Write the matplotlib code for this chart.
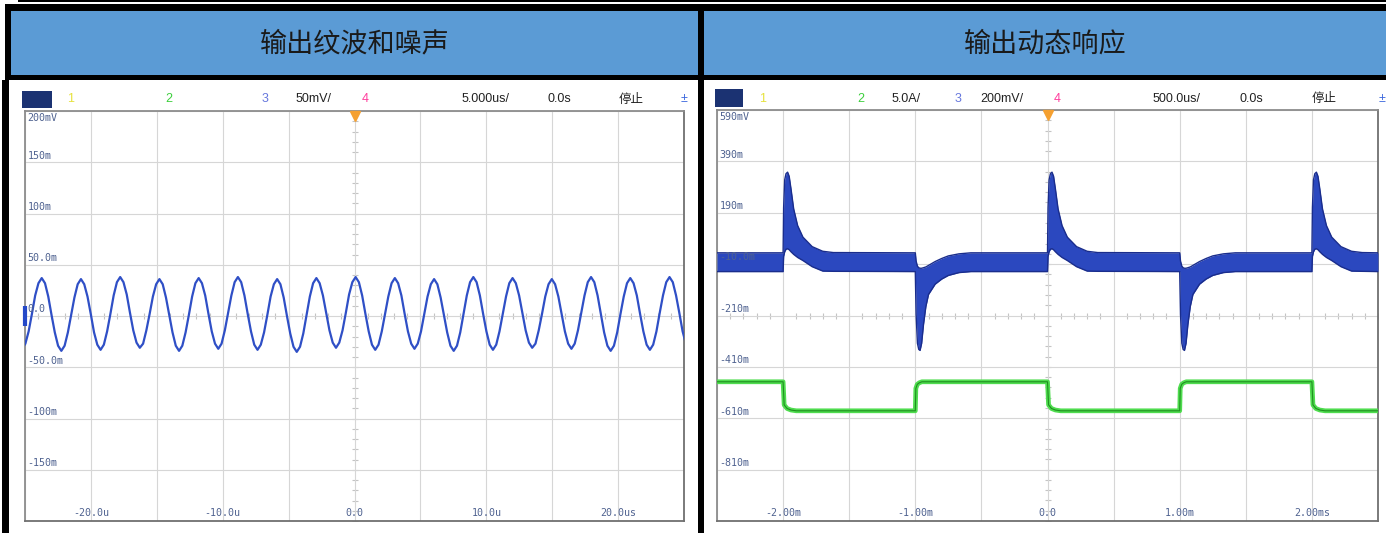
import numpy as np
import matplotlib
matplotlib.use('Agg')
import matplotlib.pyplot as plt
from matplotlib.patches import Rectangle

# ---------------- data ----------------
# left scope: output ripple, 50mV/div, 5us/div, one row = one period
ripple_mv = [
    -32, -27, -15, 2, 20, 32, 37, 32, 19, 1, -16, -29,
    -34, -29, -16, 1, 18, 31, 36, 31, 19, 2, -16, -28,
    -33, -28, -15, 2, 20, 33, 38, 33, 21, 3, -14, -26,
    -31, -27, -14, 2, 19, 31, 36, 31, 18, 1, -16, -29,
    -34, -29, -16, 1, 19, 32, 37, 32, 20, 2, -15, -27,
    -32, -27, -14, 3, 20, 33, 38, 33, 20, 2, -15, -28,
    -33, -28, -16, 1, 19, 31, 36, 31, 18, 0, -17, -30,
    -35, -30, -17, 1, 19, 32, 37, 32, 20, 3, -14, -26,
    -31, -26, -14, 3, 21, 33, 38, 33, 20, 2, -15, -28,
    -33, -28, -15, 2, 19, 32, 37, 32, 20, 2, -15, -27,
    -32, -27, -15, 2, 19, 31, 36, 31, 18, 1, -16, -29,
    -34, -29, -16, 2, 20, 33, 38, 33, 20, 2, -15, -28,
    -33, -28, -15, 2, 19, 32, 37, 32, 20, 3, -14, -26,
    -31, -27, -14, 2, 19, 31, 36, 31, 19, 2, -15, -27,
    -32, -27, -14, 3, 20, 33, 38, 33, 20, 2, -16, -29,
    -34, -29, -16, 2, 19, 32, 37, 32, 20, 2, -15, -28,
    -33, -28, -15, 3, 20, 33, 38, 33, 20, 3, -15, -27,
    -32,
]
ripple_t_first, ripple_t_last = -25.22, 25.39   # us, first/last sample

# right scope: load step response, ch3 200mV/div, 500us/div (screen in ch3 mV)
load_edges_ms = [-2.0, -1.0, 0.0, 1.0, 2.0]     # load drop, rise, drop, rise, drop
base_top, base_bot = 34, -39                     # ripple band around -10mV

over_dt = [0.0, 0.004, 0.012, 0.022, 0.034, 0.046, 0.06, 0.08, 0.11, 0.15, 0.22, 0.30, 0.38]
over_top = [34, 210, 318, 342, 348, 332, 282, 205, 140, 95, 58, 40, 35]
over_bot = [-39, 20, 38, 48, 50, 46, 38, 28, 16, 4, -20, -37, -38]

under_dt = [0.0, 0.006, 0.016, 0.026, 0.036, 0.048, 0.062, 0.08, 0.10, 0.15, 0.20, 0.25, 0.33, 0.42]
under_top = [34, 2, -18, -24, -26, -26, -24, -21, -15, 0, 12, 22, 30, 34]
under_bot = [-39, -205, -318, -342, -346, -318, -245, -175, -128, -88, -68, -54, -43, -39]

load_hi, load_lo = -468, -581
drop_dt = [0.0, 0.008, 0.03, 0.06, 0.10]
drop_lvl = [load_hi, -558, -572, -578, load_lo]
rise_dt = [0.0, 0.004, 0.015, 0.03, 0.05]
rise_lvl = [load_lo, -494, -478, -472, load_hi]

left_ylabels = ['200mV', '150m', '100m', '50.0m', '0.0', '-50.0m', '-100m', '-150m']
left_xlabels = ['-20.0u', '-10.0u', '0.0', '10.0u', '20.0us']
right_ylabels = ['590mV', '390m', '190m', '-10.0m', '-210m', '-410m', '-610m', '-810m']
right_xlabels = ['-2.00m', '-1.00m', '0.0', '1.00m', '2.00ms']

left_title = '输出纹波和噪声'
right_title = '输出动态响应'

# ---------------- figure / layout ----------------
W, H = 1386, 533
plt.rcParams['font.family'] = ['DejaVu Sans', 'Noto Sans CJK SC']
fig = plt.figure(figsize=(W / 100, H / 100), dpi=100)
bg = fig.add_axes([0, 0, 1, 1])
bg.set_xlim(0, W)
bg.set_ylim(H, 0)
bg.axis('off')


def box(x0, y0, x1, y1, color, z=1):
    bg.add_patch(Rectangle((x0, y0), x1 - x0, y1 - y0, color=color, lw=0, zorder=z))


def px_axes(x0, y0, x1, y1):
    return fig.add_axes([x0 / W, 1 - y1 / H, (x1 - x0) / W, (y1 - y0) / H])


# table look: black rules, blue header cells
box(18, 0, W, 1.5, 'black')
box(5, 4, W, 11, 'black')
box(5, 4, 11, 80, 'black')
box(2, 80, 9, H, 'black')
box(11, 11, 698, 75, '#5b9bd5')
box(704, 11, W, 75, '#5b9bd5')
box(5, 75, W, 80, 'black')
box(698, 4, 704, H, 'black', z=5)

for cx, title in [(354.5, left_title), (1045, right_title)]:
    bg.text(cx, 44, title, ha='center', va='center', fontsize=19.5,
            family=['Noto Sans CJK SC', 'DejaVu Sans'], fontweight='light', color='#1a1a1a')

# status bars
yellow, green, blue, pink, dark = '#e6e23c', '#3ccf3c', '#6677dd', '#ff3c9c', '#222222'
left_status = [('1', yellow, 67), ('2', green, 165), ('3', blue, 262), ('50mV/', dark, 296),
               ('4', pink, 362), ('5.000us/', dark, 462), ('0.0s', dark, 548),
               ('停止', dark, 619), ('±', '#3a66dd', 681)]
right_status = [('1', yellow, 759), ('2', green, 857), ('5.0A/', dark, 892), ('3', blue, 955),
                ('200mV/', dark, 980), ('4', pink, 1054), ('500.0us/', dark, 1153),
                ('0.0s', dark, 1239), ('停止', dark, 1312), ('±', '#3a66dd', 1379)]
box(22, 91, 52, 108, '#1b3272')
box(715, 89, 743, 107, '#1b3272')
for items, ty in [(left_status, 99.5), (right_status, 98.5)]:
    for txt, col, tx in items:
        fam = ['Noto Sans CJK SC'] if txt == '停止' else ['Liberation Sans', 'DejaVu Sans']
        bg.text(tx, ty, txt, ha='left', va='center', fontsize=9, color=col, family=fam, zorder=2)


def scope(ax, xlim, ylim, ylabels, xlabels):
    ax.set_xlim(xlim)
    ax.set_ylim(ylim)
    xs = np.linspace(xlim[0], xlim[1], 11)
    ys = np.linspace(ylim[0], ylim[1], 9)
    ax.set_xticks(xs)
    ax.set_yticks(ys)
    ax.grid(True, color='#d6d6d6', lw=0.8)
    ax.tick_params(length=0, labelbottom=False, labelleft=False)
    for s in ax.spines.values():
        s.set_color('#8c8c8c')
        s.set_linewidth(1.3)
    ax.spines['bottom'].set_color('#707070')
    ax.spines['right'].set_color('#707070')
    cx, cy = np.mean(xlim), np.mean(ylim)
    # small division marks on the centre cross
    fy = np.linspace(ylim[0], ylim[1], 41)
    fx = np.linspace(xlim[0], xlim[1], 51)
    ax.plot(np.full_like(fy, cx), fy, ls='none', marker='_', ms=4, mew=0.8, color='#c4c4c4', zorder=1)
    ax.plot(fx, np.full_like(fx, cy), ls='none', marker='|', ms=4, mew=0.8, color='#c4c4c4', zorder=1)
    # trigger marker
    ax.plot([cx], [ylim[1] - (ylim[1] - ylim[0]) * 0.012], marker='v', ms=7, color='#f5a030',
            clip_on=False, zorder=6)
    lab = dict(fontsize=7.2, family='DejaVu Sans Mono', color='#4f6290', zorder=7)
    dx = (xlim[1] - xlim[0]) * 0.004
    dy = (ylim[1] - ylim[0]) * 0.004
    for i, txt in enumerate(ylabels):
        yv = ys[-1 - i]
        if i == 0:
            ax.text(xlim[0] + dx, yv - dy, txt, ha='left', va='top', **lab)
        else:
            ax.text(xlim[0] + dx, yv + dy, txt, ha='left', va='bottom', **lab)
    for xv, txt in zip(xs[1:-1:2], xlabels):
        ax.text(xv, ylim[0] + dy * 2, txt, ha='center', va='bottom', **lab)


# ---- left: ripple and noise ----
axl = px_axes(25, 111, 684, 521)
scope(axl, (-25, 25), (-200, 200), left_ylabels, left_xlabels)
t_r = np.linspace(ripple_t_first, ripple_t_last, len(ripple_mv))
axl.plot(t_r, ripple_mv, color='#2f4fc6', lw=1.6, zorder=4)
axl.plot([-25], [0], marker='|', ms=14, mew=3, color='#2448c8', clip_on=False, zorder=5)

# ---- right: dynamic response ----
axr = px_axes(717, 110, 1378, 521)
scope(axr, (-2.5, 2.5), (-1010, 590), right_ylabels, right_xlabels)

t_b, top_b, bot_b = [-2.5], [base_top], [base_bot]
t_g, lvl_g = [-2.5], [load_hi]
for i, te in enumerate(load_edges_ms):
    if i % 2 == 0:
        dts, tops, bots, gdt, glv = over_dt, over_top, over_bot, drop_dt, drop_lvl
    else:
        dts, tops, bots, gdt, glv = under_dt, under_top, under_bot, rise_dt, rise_lvl
    t_b += [te + d for d in dts]
    top_b += tops
    bot_b += bots
    t_g += [te + d for d in gdt]
    lvl_g += glv
t_b.append(2.5)
top_b.append(base_top)
bot_b.append(base_bot)
t_g.append(2.5)
lvl_g.append(load_lo)

axr.fill_between(t_b, bot_b, top_b, color='#2b48bf', lw=0, zorder=3)
axr.plot(t_b, top_b, color='#1a2d8c', lw=1.0, zorder=4)
axr.plot(t_b, bot_b, color='#1a2d8c', lw=1.0, zorder=4)
axr.plot(t_g, lvl_g, color='#4fdc4f', lw=3.4, zorder=3, solid_joinstyle='round')
axr.plot(t_g, lvl_g, color='#1f8f1f', lw=0.8, zorder=4)

fig.savefig('out.png', dpi=100, facecolor='white')
